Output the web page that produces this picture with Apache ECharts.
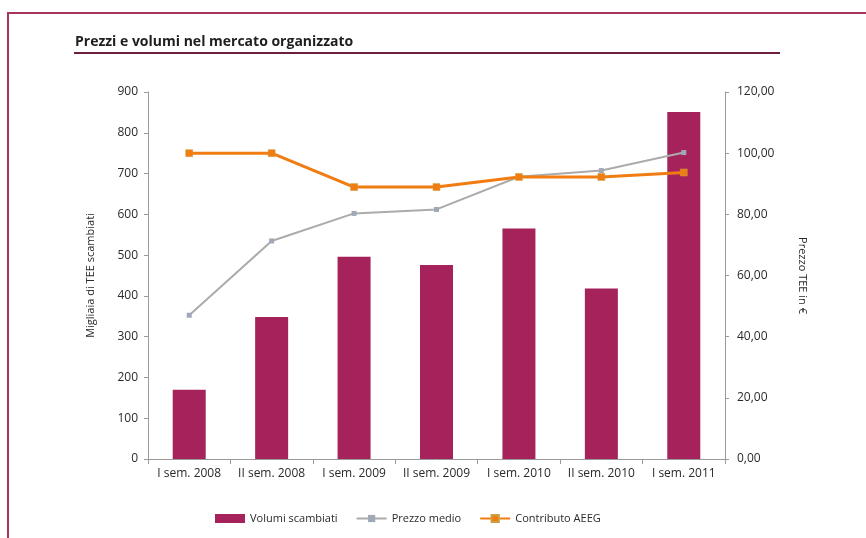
<!DOCTYPE html>
<html>
<head>
<meta charset="utf-8">
<script src="https://cdn.jsdelivr.net/npm/echarts@6/dist/echarts.min.js"></script>
<style>
  html, body { margin: 0; padding: 0; background: #ffffff; }
  #chart { width: 866px; height: 538px; }
</style>
</head>
<body>
<div id="chart"></div>
<script>
// Semesters on the category axis
const categories = ['I sem. 2008', 'II sem. 2008', 'I sem. 2009', 'II sem. 2009', 'I sem. 2010', 'II sem. 2010', 'I sem. 2011'];
// Traded volumes (thousands of TEE)
const volumi = [170, 348, 496, 476, 565, 418, 851];
// Average price (€)
const prezzoMedio = [47.0, 71.3, 80.3, 81.6, 92.3, 94.3, 100.2];
// AEEG contribution (€)
const contributo = [100.0, 100.0, 88.92, 88.92, 92.22, 92.22, 93.68];

const FONT = "'Open Sans', 'Noto Sans', sans-serif";
const TXT = '#2a2a2a';
const AXIS = '#9a9a9a';

const chart = echarts.init(document.getElementById('chart'), null, { renderer: 'canvas' });

chart.setOption({
  backgroundColor: '#ffffff',
  animation: false,
  textStyle: { fontFamily: FONT },
  graphic: [
    {
      type: 'rect',
      shape: { x: 8, y: 13, width: 900, height: 600 },
      style: { fill: 'none', stroke: '#a8345e', lineWidth: 2 }
    },
    {
      type: 'text',
      left: 75, top: 35,
      style: { text: 'Prezzi e volumi nel mercato organizzato', fontFamily: FONT, fontWeight: 'bold', fontSize: 14, fill: '#1e1e1e' }
    },
    {
      type: 'line',
      shape: { x1: 74, y1: 53, x2: 780, y2: 53 },
      style: { stroke: '#6e1d3e', lineWidth: 2 }
    }
  ],
  grid: { left: 148, right: 141, top: 92, bottom: 79 },
  legend: {
    bottom: 9,
    left: 210,
    itemGap: 18,
    itemWidth: 30,
    itemHeight: 9,
    textStyle: { fontFamily: FONT, fontSize: 11, color: TXT },
    data: [
      { name: 'Volumi scambiati', icon: 'rect' },
      { name: 'Prezzo medio' },
      { name: 'Contributo AEEG' }
    ]
  },
  xAxis: {
    type: 'category',
    data: categories,
    boundaryGap: true,
    axisLine: { lineStyle: { color: AXIS, width: 1 } },
    axisTick: { show: true, alignWithLabel: false, length: 5, lineStyle: { color: AXIS } },
    axisLabel: { color: TXT, fontSize: 12, margin: 9, fontFamily: FONT, interval: 0, hideOverlap: false }
  },
  yAxis: [
    {
      type: 'value',
      min: 0, max: 900, interval: 100,
      name: 'Migliaia di TEE scambiati',
      nameLocation: 'middle',
      nameGap: 52,
      nameRotate: 90,
      nameTextStyle: { color: TXT, fontSize: 11, fontFamily: FONT },
      axisLine: { show: true, lineStyle: { color: AXIS } },
      axisTick: { show: true, length: 4, lineStyle: { color: AXIS } },
      axisLabel: { color: TXT, fontSize: 12, margin: 10, fontFamily: FONT },
      splitLine: { show: false }
    },
    {
      type: 'value',
      min: 0, max: 120, interval: 20,
      position: 'right',
      name: 'Prezzo TEE in €',
      nameLocation: 'middle',
      nameGap: 72,
      nameRotate: -90,
      nameTextStyle: { color: TXT, fontSize: 11, fontFamily: FONT },
      axisLine: { show: true, lineStyle: { color: AXIS } },
      axisTick: { show: true, length: 4, lineStyle: { color: AXIS } },
      axisLabel: {
        color: TXT, fontSize: 12, margin: 12, fontFamily: FONT,
        formatter: v => v.toFixed(2).replace('.', ',')
      },
      splitLine: { show: false }
    }
  ],
  series: [
    {
      name: 'Volumi scambiati',
      type: 'bar',
      yAxisIndex: 0,
      data: volumi,
      barWidth: 33,
      itemStyle: { color: '#a6225a' }
    },
    {
      name: 'Prezzo medio',
      type: 'line',
      yAxisIndex: 1,
      data: prezzoMedio,
      symbol: 'rect',
      symbolSize: 5,
      lineStyle: { color: '#ababab', width: 2 },
      itemStyle: { color: '#a0a8b8' }
    },
    {
      name: 'Contributo AEEG',
      type: 'line',
      yAxisIndex: 1,
      data: contributo,
      symbol: 'rect',
      symbolSize: 7,
      lineStyle: { color: '#f07c12', width: 3 },
      itemStyle: { color: '#f07c12', borderColor: '#c9a040', borderWidth: 0.5 }
    }
  ]
});
</script>
</body>
</html>
